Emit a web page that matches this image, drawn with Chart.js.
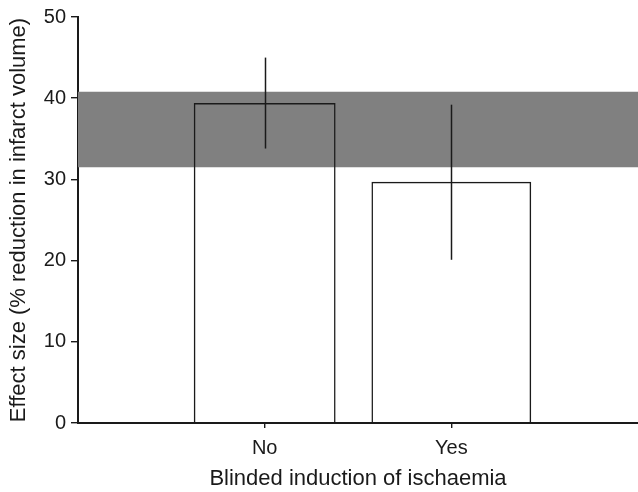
<!DOCTYPE html>
<html>
<head>
<meta charset="utf-8">
<script src="https://cdn.jsdelivr.net/npm/chart.js@4.4.1/dist/chart.umd.min.js"></script>
<style>
  html, body { margin: 0; padding: 0; background: #fff; }
  #wrap { width: 638px; height: 492px; }
</style>
</head>
<body>
<div id="wrap"><canvas id="c"></canvas></div>
<script>
// data
const categories = ['No', 'Yes'];
const effect     = [39.4, 29.7];
const errLow     = [33.8, 20.1];
const errHigh    = [45.0, 39.2];
const bandRange  = [31.5, 40.8];   // grey band (pooled estimate CI)
const yTicks     = [0, 10, 20, 30, 40, 50];

const ink = '#1a1a1a';
const font = 'Liberation Sans, Arial, sans-serif';

// error bars, no caps
const errorBars = {
  id: 'errorBars',
  afterDatasetsDraw(chart) {
    const { ctx, scales: { x, y } } = chart;
    ctx.save();
    ctx.strokeStyle = ink;
    ctx.lineWidth = 1.5;
    categories.forEach((c, i) => {
      const px = Math.round(x.getPixelForValue(i + 1)) + 0.5;
      ctx.beginPath();
      ctx.moveTo(px, y.getPixelForValue(errHigh[i]));
      ctx.lineTo(px, y.getPixelForValue(errLow[i]));
      ctx.stroke();
    });
    ctx.restore();
  }
};

const barWidths = [0.76, 0.856];

new Chart(document.getElementById('c'), {
  type: 'bar',
  data: {
    datasets: [
      ...categories.map((c, i) => ({
        type: 'bar',
        label: c,
        data: [{ x: i + 1, y: effect[i] }],
        backgroundColor: 'rgba(0,0,0,0)',
        borderColor: ink,
        borderWidth: 1.5,
        borderSkipped: 'bottom',
        grouped: false,
        categoryPercentage: 1,
        barPercentage: barWidths[i],
        order: 1
      })),
      {
        type: 'line',
        label: 'band hi',
        data: [{ x: 0, y: bandRange[1] }, { x: 3, y: bandRange[1] }],
        borderWidth: 0,
        pointRadius: 0,
        backgroundColor: '#808080',
        fill: '+1',
        order: 3
      },
      {
        type: 'line',
        label: 'band lo',
        data: [{ x: 0, y: bandRange[0] }, { x: 3, y: bandRange[0] }],
        borderWidth: 0,
        pointRadius: 0,
        fill: false,
        order: 3
      }
    ]
  },
  options: {
    responsive: true, maintainAspectRatio: false,
    animation: false,
    layout: { padding: { top: 17, right: 0, left: 0, bottom: 0 } },
    plugins: { legend: { display: false }, tooltip: { enabled: false } },
    scales: {
      x: {
        type: 'linear', min: 0, max: 3, offset: false,
        afterBuildTicks: s => { s.ticks = categories.map((c, i) => ({ value: i + 1 })); },
        afterFit: s => { s.height = 69; },
        ticks: { color: ink, font: { family: font, size: 20 }, padding: 8, callback: v => categories[v - 1] },
        grid: { display: true, drawOnChartArea: false, offset: false, tickLength: 5, color: ink, lineWidth: 1.4 },
        border: { display: true, color: ink, width: 2 },
        title: { display: true, text: 'Blinded induction of ischaemia', color: ink, font: { family: font, size: 22 }, padding: { top: 0, bottom: 0 } }
      },
      y: {
        min: 0, max: 50,
        afterBuildTicks: s => { s.ticks = yTicks.map(v => ({ value: v })); },
        afterFit: s => { s.width = 78; },
        ticks: { color: ink, font: { family: font, size: 20 }, padding: 5 },
        grid: { display: true, drawOnChartArea: false, tickLength: 7, color: ink, lineWidth: 1.4 },
        border: { display: true, color: ink, width: 2 },
        title: { display: true, text: 'Effect size (% reduction in infarct volume)', color: ink, font: { family: font, size: 22 }, padding: { top: 6, bottom: 0 } }
      }
    }
  },
  plugins: [errorBars]
});
</script>
</body>
</html>
